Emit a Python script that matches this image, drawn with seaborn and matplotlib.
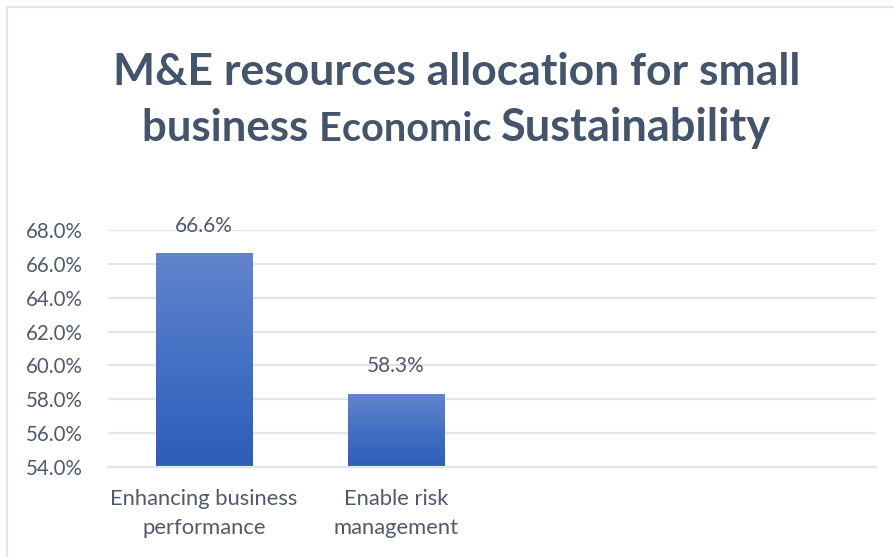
import numpy as np
import pandas as pd
import matplotlib
matplotlib.use("Agg")
import matplotlib.pyplot as plt
from matplotlib.colors import LinearSegmentedColormap
from matplotlib.lines import Line2D
import seaborn as sns

# Data
categories = ["Enhancing business\nperformance", "Enable risk\nmanagement"]
values = [66.6, 58.3]
value_labels = ["66.6%", "58.3%"]
yticks = [54, 56, 58, 60, 62, 64, 66, 68]
title_line1 = "M&E resources allocation for small"
title_line2 = ["business ", "Economic ", "Sustainability"]

sns.set_theme(style="white")
plt.rcParams["font.family"] = ["Lato", "DejaVu Sans"]

TITLE_C = "#44546A"
TEXT_C = "#505A6A"
GRID_C = "#E1E4E9"
YMIN, YMAX = 54, 68

W, H = 894, 557
fig = plt.figure(figsize=(W / 100, H / 100), dpi=100)
fig.patch.set_facecolor("white")

# chart-area frame (top and left edges visible)
fig.add_artist(Line2D([7 / W, 7 / W], [0, 1 - 7 / H], transform=fig.transFigure,
                      color=GRID_C, lw=1.5))
fig.add_artist(Line2D([7 / W, 1], [1 - 7 / H, 1 - 7 / H], transform=fig.transFigure,
                      color=GRID_C, lw=1.5))

ax = fig.add_axes([108 / W, 1 - 467 / H, (876 - 108) / W, (467 - 230) / H])

df = pd.DataFrame({"category": categories, "value": values})
sns.barplot(data=df, x="category", y="value", ax=ax, width=0.505,
            color="#4472C4", saturation=1, edgecolor="none")

ax.set_xlabel("")
ax.set_ylabel("")
for s in ["top", "right", "left"]:
    ax.spines[s].set_visible(False)
ax.spines["bottom"].set_color(GRID_C)
ax.spines["bottom"].set_linewidth(1.6)
ax.yaxis.grid(True, color=GRID_C, lw=1.6)
ax.set_axisbelow(True)

# vertical gradient fill on each bar, from the axis floor up to the bar's value
grad = LinearSegmentedColormap.from_list("bar", ["#2D5DB7", "#4471C6", "#6384CB"])
for patch in ax.patches:
    x0, w = patch.get_x(), patch.get_width()
    top = patch.get_y() + patch.get_height()
    ax.imshow(np.linspace(0, 1, 256).reshape(-1, 1), cmap=grad, aspect="auto",
              origin="lower", extent=[x0, x0 + w, YMIN, top], zorder=2,
              interpolation="bilinear")
    patch.set_visible(False)

ax.set_xlim(-0.5, 3.5)
ax.set_ylim(YMIN, YMAX)
ax.set_yticks(yticks)
ax.set_yticklabels([f"{t:.1f}%" for t in yticks])
ax.tick_params(axis="both", length=0, colors=TEXT_C)
ax.tick_params(axis="y", labelsize=14.8, pad=18)
ax.tick_params(axis="x", labelsize=15.8, pad=16)
for lbl in ax.get_xticklabels():
    lbl.set_linespacing(1.55)

# value labels above bars
for i, (v, lab) in enumerate(zip(values, value_labels)):
    ax.annotate(lab, (i, v), xytext=(0, 13), textcoords="offset points",
                ha="center", va="bottom", fontsize=15, color=TEXT_C)

# two-line title; middle word of the second line is set smaller
cx = 457 / W
fig.text(cx, 1 - 85 / H, title_line1, ha="center", va="baseline",
         fontsize=32, fontweight="bold", color=TITLE_C)

sizes = [31.5, 28.5, 32.5]
renderer = fig.canvas.get_renderer()
parts = []
for txt, sz in zip(title_line2, sizes):
    t = fig.text(0, 1 - 141 / H, txt, ha="left", va="baseline",
                 fontsize=sz, fontweight="bold", color=TITLE_C)
    parts.append(t)
widths = [p.get_window_extent(renderer).width / W for p in parts]
x = cx - sum(widths) / 2
for p, w in zip(parts, widths):
    p.set_x(x)
    x += w

fig.savefig("out.png", dpi=100, facecolor="white")
